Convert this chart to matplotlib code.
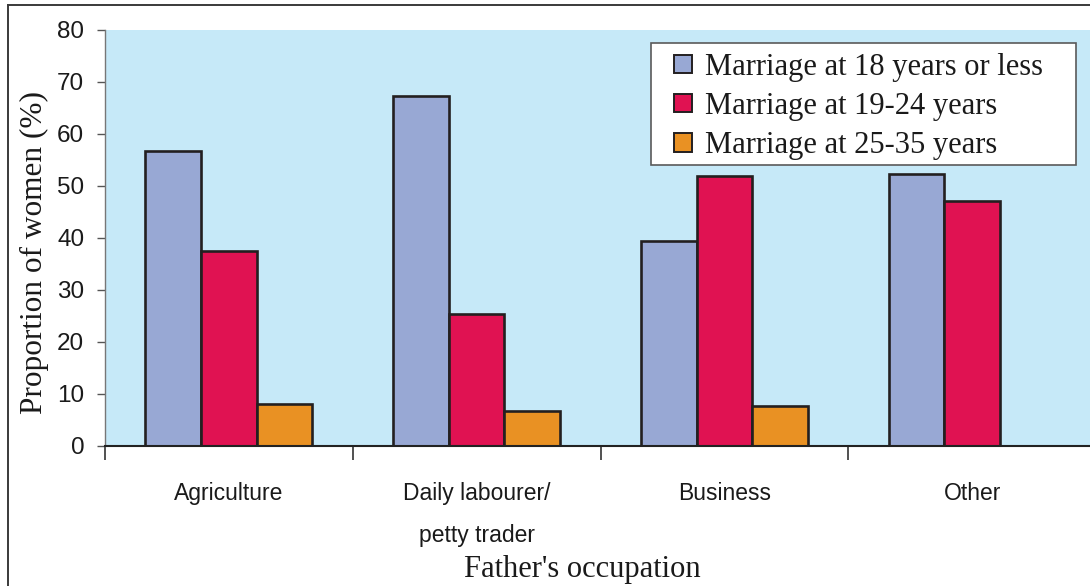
import numpy as np
import matplotlib
matplotlib.use("Agg")
import matplotlib.pyplot as plt
from matplotlib.lines import Line2D
from matplotlib.patches import Rectangle
from matplotlib.legend_handler import HandlerPatch
from matplotlib.ticker import FixedLocator

# Data
categories = ["Agriculture", "Daily labourer/\npetty trader", "Business", "Other"]
series_names = ["Marriage at 18 years or less",
                "Marriage at 19-24 years",
                "Marriage at 25-35 years"]
age_18_or_less = [56.7, 67.4, 39.4, 52.4]
age_19_24 = [37.5, 25.4, 52.0, 47.1]
age_25_35 = [8.1, 6.7, 7.6, np.nan]
y_ticks = [0, 10, 20, 30, 40, 50, 60, 70, 80]

colors = ["#98A8D4", "#E01252", "#E99123"]
edge = "#231F20"
bg = "#C6E9F8"
txt = "#1a1a1a"

W, H = 1090, 586
fig = plt.figure(figsize=(W / 100, H / 100), dpi=100)
ax = fig.add_axes([105 / W, 1 - 446 / H, 991 / W, 416 / H])
ax.set_facecolor(bg)

x = np.arange(len(categories))
bw = 0.225
for i, (vals, c, name) in enumerate(zip([age_18_or_less, age_19_24, age_25_35], colors, series_names)):
    ax.bar(x + (i - 1) * bw, vals, width=bw, color=c, edgecolor=edge,
           linewidth=1.9, label=name, zorder=3)

ax.set_xlim(-0.5, len(categories) - 0.5)
ax.set_ylim(0, 80)
ax.set_yticks(y_ticks)
ax.set_yticklabels([str(t) for t in y_ticks], family="Liberation Sans",
                   fontsize=17.5, color=txt)
ax.tick_params(axis="y", direction="out", length=6, width=1, color="#555555", pad=9)

ax.set_xticks(x)
ax.set_xticklabels(categories, family="Liberation Sans",
                   fontsize=16.5, color=txt, linespacing=2.05, va="top")
ax.tick_params(axis="x", which="major", length=0, pad=26)
ax.xaxis.set_minor_locator(FixedLocator(np.arange(-0.5, len(categories), 1.0)))
ax.tick_params(axis="x", which="minor", length=10, width=1.2, color="#333333", direction="out")

for s in ["top", "right"]:
    ax.spines[s].set_visible(False)
ax.spines["left"].set_color("#777777")
ax.spines["left"].set_linewidth(1.0)
ax.spines["bottom"].set_color("#222222")
ax.spines["bottom"].set_linewidth(1.5)
ax.spines["bottom"].set_zorder(4)

# legend box
ax.add_patch(Rectangle((651 / W, 1 - 165 / H), 425 / W, 122 / H,
                       transform=fig.transFigure, facecolor="white", clip_on=False,
                       edgecolor="#5a5a5a", linewidth=1.2, zorder=5))


def square_handle(legend, orig_handle, xdescent, ydescent, width, height, fontsize):
    s = 13
    return Rectangle((width - s - xdescent, (height - s) / 2 - ydescent), s, s)


legend_keys = [Rectangle((0, 0), 1, 1, facecolor=c, edgecolor=edge, linewidth=1.4)
               for c in colors]
fs_leg = 22
leg = ax.legend(legend_keys, series_names, loc="upper left",
                bbox_to_anchor=(661 / W, 1 - 53 / H),
                bbox_transform=fig.transFigure, frameon=False,
                prop={"family": "Liberation Serif", "size": fs_leg},
                handlelength=1.0, handleheight=0.7, handletextpad=0.45,
                labelspacing=0.33, borderpad=0, borderaxespad=0,
                handler_map={Rectangle: HandlerPatch(patch_func=square_handle)})
leg.set_zorder(6)
for t in leg.get_texts():
    t.set_color(txt)

fig.text(34 / W, 1 - 253 / H, "Proportion of women (%)", rotation=90,
         ha="center", va="center", family="Liberation Serif", fontsize=22.5, color=txt)
fig.text(582 / W, 1 - 570 / H, "Father's occupation", ha="center", va="center",
         family="Liberation Serif", fontsize=22, color=txt)

# outer frame
fig.add_artist(Line2D([8 / W, 8 / W], [0, 1 - 5 / H], transform=fig.transFigure,
                      color="#3a3a3a", linewidth=1.4))
fig.add_artist(Line2D([8 / W, 1], [1 - 5 / H, 1 - 5 / H], transform=fig.transFigure,
                      color="#3a3a3a", linewidth=1.4))

fig.savefig("out.png", dpi=100)
